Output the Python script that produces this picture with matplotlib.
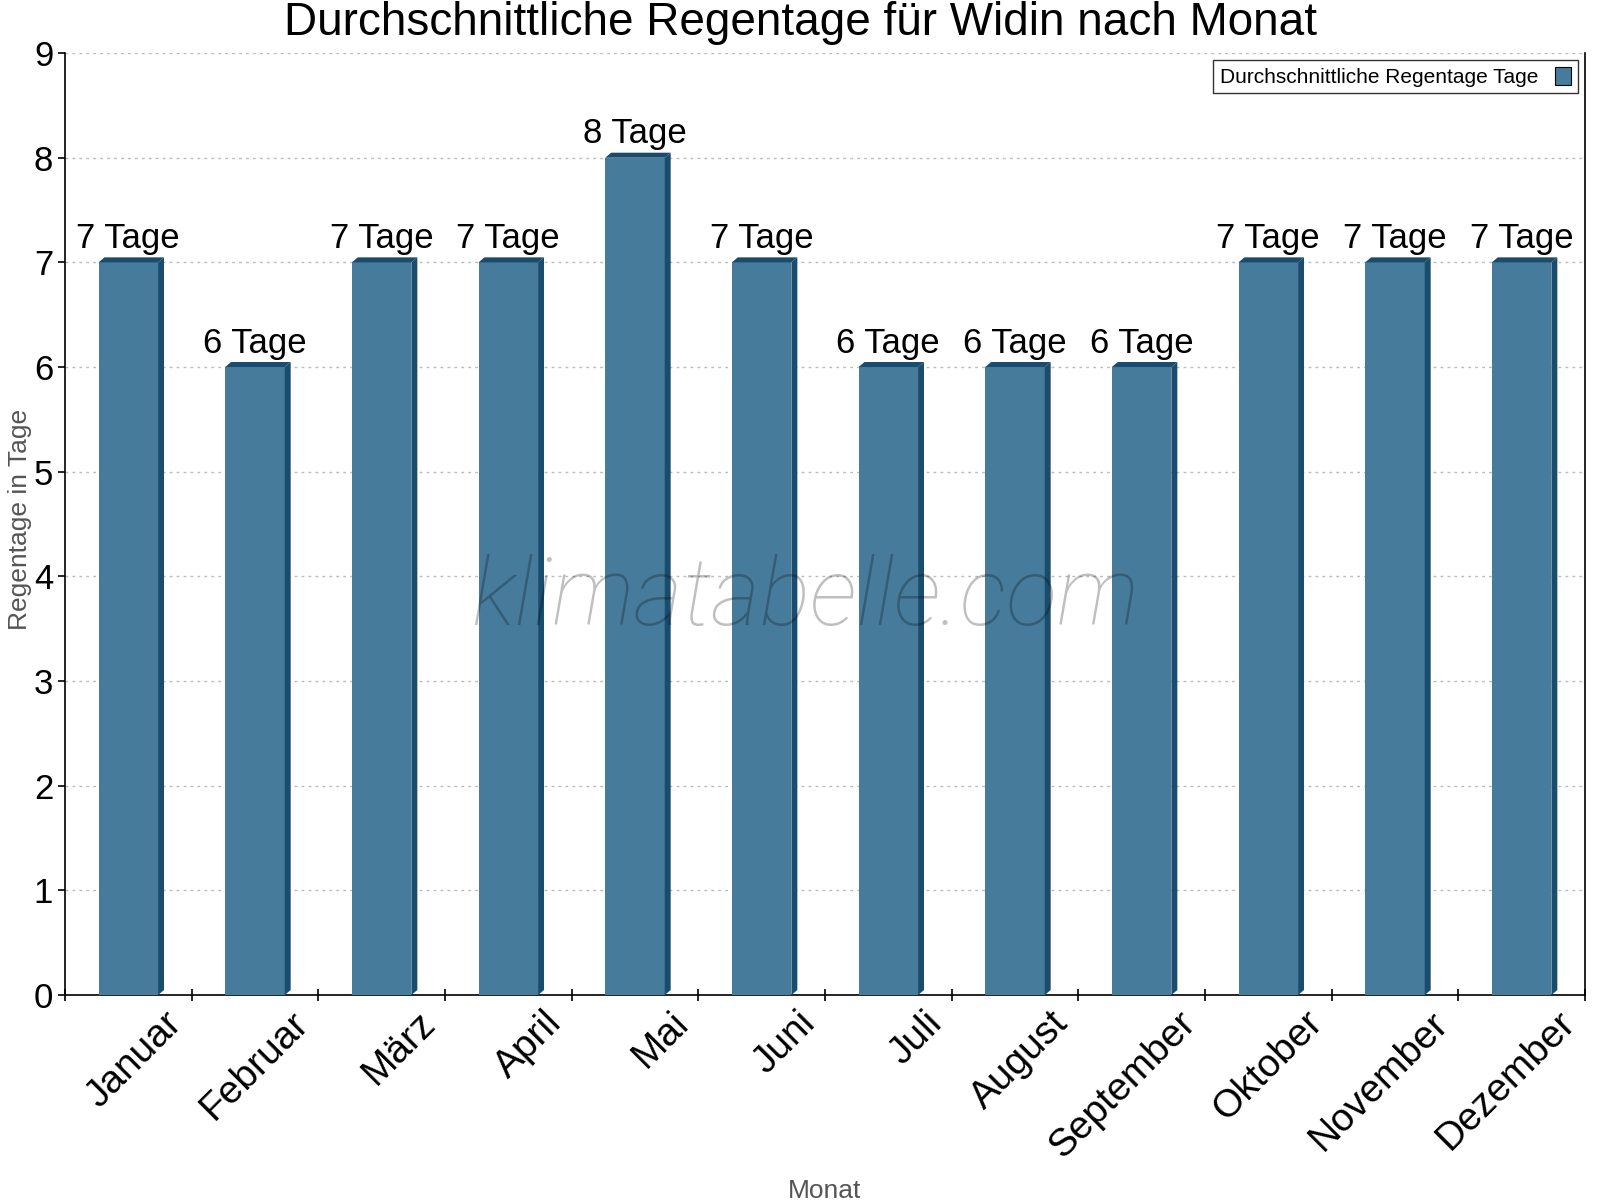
import numpy as np
import matplotlib
matplotlib.use("Agg")
import matplotlib.pyplot as plt
from matplotlib.patches import Polygon

# data
monate = ["Januar", "Februar", "März", "April", "Mai", "Juni", "Juli",
          "August", "September", "Oktober", "November", "Dezember"]
regentage = [7, 6, 7, 7, 8, 7, 6, 6, 6, 7, 7, 7]

plt.rcParams['font.family'] = ['Liberation Sans', 'DejaVu Sans']

front = "#467b9c"
dark = "#1a4c6e"

fig = plt.figure(figsize=(16, 12), dpi=100)
ax = fig.add_axes([0.0406, 0.1708, 0.95, 0.785])

x = np.arange(len(monate))
w = 0.47
dx, dy = 0.047, 0.048   # depth of the fake 3d faces (data units)
bars = ax.bar(x, regentage, width=w, color=front, zorder=3,
              label="Durchschnittliche Regentage Tage")
for xi, v in zip(x, regentage):
    xl, xr = xi - w / 2, xi + w / 2
    # side face
    ax.add_patch(Polygon([(xr, 0), (xr + dx, dy), (xr + dx, v + dy), (xr, v)],
                         closed=True, color=dark, lw=0, zorder=3))
    # top face
    ax.add_patch(Polygon([(xl, v), (xl + dx, v + dy), (xr + dx, v + dy), (xr, v)],
                         closed=True, color=dark, lw=0, zorder=3))
    ax.text(xi, v + 0.07, f"{v} Tage", ha="center", va="bottom", fontsize=25, zorder=4)

ax.set_xlim(-0.5, 11.5)
ax.set_ylim(0, 9)

# ticks at category borders, labels shifted right of bar center
ax.set_xticks(np.arange(-0.5, 12, 1))
ax.set_xticklabels([])
ax.set_xticks(x + 0.28, minor=True)
ax.set_xticklabels(monate, minor=True, rotation=45, ha="right",
                   rotation_mode="anchor", fontsize=28)
ax.tick_params(axis="x", which="major", direction="inout", length=9, width=1.2)
ax.tick_params(axis="x", which="minor", length=0, pad=7)
ax.set_yticks(range(10))
ax.tick_params(axis="y", direction="out", length=5, width=1.2, labelsize=25)

ax.grid(axis="y", linestyle=(0, (2, 3)), color="#bbbbbb", lw=1, zorder=0)
ax.spines["top"].set_visible(False)
for s in ["left", "right", "bottom"]:
    ax.spines[s].set_linewidth(1.2)

fig.text(0.5, 0.9625, "Durchschnittliche Regentage für Widin nach Monat",
         ha="center", va="bottom", fontsize=33)
ax.set_ylabel("Regentage in Tage", fontsize=19, color="#555555")
ax.yaxis.set_label_coords(-0.0215, 0.505)
ax.set_xlabel("Monat", fontsize=19, color="#555555", labelpad=10)

leg = ax.legend(loc="upper right", fontsize=15, markerfirst=False, frameon=True,
                fancybox=False, handlelength=0.8, handleheight=1.0,
                borderpad=0.3, bbox_to_anchor=(1.0, 1.0), borderaxespad=0.35)
leg.get_frame().set_edgecolor("black")
leg.get_frame().set_linewidth(1)
leg.legend_handles[0].set_edgecolor("black")
leg.legend_handles[0].set_linewidth(0.8)

ax.text(0.487, 0.42, "klimatabelle.com", transform=ax.transAxes, ha="center", va="center",
        fontsize=68, style="italic", fontweight="light", color="black", alpha=0.25,
        family=["Roboto", "Liberation Sans"], zorder=5)

fig.savefig("out.png", dpi=100)
